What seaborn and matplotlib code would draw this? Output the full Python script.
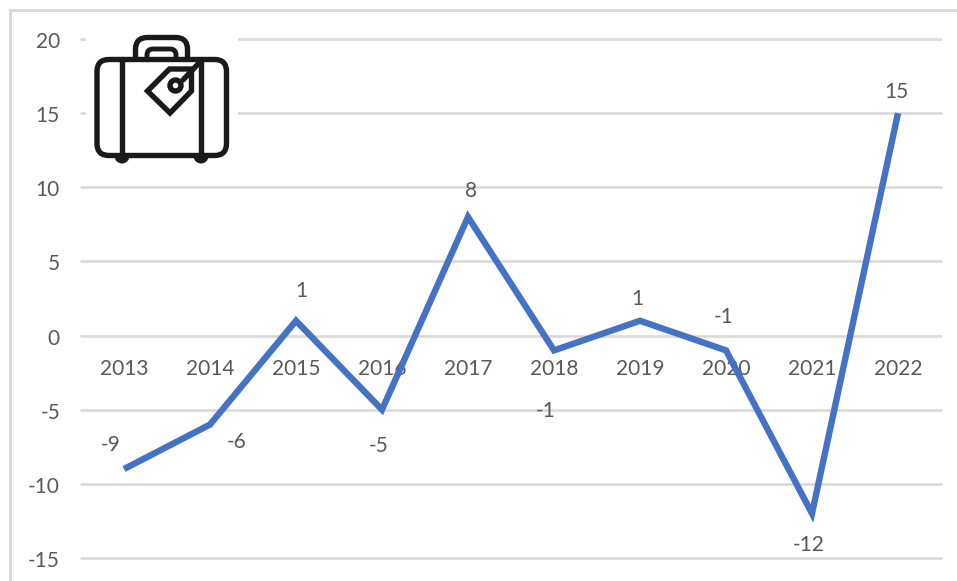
import matplotlib
matplotlib.use("Agg")
import matplotlib.pyplot as plt
from matplotlib.patches import FancyBboxPatch, Circle, Polygon, Rectangle
from matplotlib.lines import Line2D
from matplotlib.transforms import ScaledTranslation
import seaborn as sns
import pandas as pd

years = ["2013", "2014", "2015", "2016", "2017", "2018", "2019", "2020", "2021", "2022"]
values = [-9, -6, 1, -5, 8, -1, 1, -1, -12, 15]
label_offsets_px = [(-13, 24), (27, -17), (5, 30), (-3, -36), (3, 26),
                    (-8, -61), (-3, 22), (-2, 33), (-3, -31), (-2, 21)]
y_ticks = [20, 15, 10, 5, 0, -5, -10, -15]

W, H = 957, 581
GREY = "#595959"
GRID = "#d9d9d9"
BLUE = "#4472c4"
INK = "#1a1a1a"
PX = 72 / 100
FS = 15

sns.set_theme(style="white")
plt.rcParams["font.family"] = ["Lato", "DejaVu Sans"]

fig = plt.figure(figsize=(W / 100, H / 100), dpi=100, facecolor="white")
ax = fig.add_axes([81 / W, 1 - 558 / H, (941 - 81) / W, (558 - 39) / H], facecolor="none")

df = pd.DataFrame({"year": years, "value": values})
for v in y_ticks:
    ax.axhline(v, color=GRID, lw=2.6 * PX, zorder=1, clip_on=False)
sns.lineplot(data=df, x="year", y="value", color=BLUE, lw=6.4 * PX, ax=ax, zorder=5,
             solid_joinstyle="miter", solid_capstyle="butt", errorbar=None)

ax.set_xlim(-0.5, 9.5)
ax.set_ylim(-15, 20)
ax.set_xlabel("")
ax.set_ylabel("")
ax.set_yticks(y_ticks)
ax.set_yticklabels([str(v) for v in y_ticks])
ax.tick_params(axis="y", length=0, pad=21 * PX, labelsize=FS, labelcolor=GREY)
ax.tick_params(axis="x", length=0, pad=23 * PX, labelsize=FS, labelcolor=GREY)
for s in ax.spines.values():
    s.set_visible(False)
ax.spines["bottom"].set_position(("data", 0))
for lab in ax.get_xticklabels():
    lab.set_zorder(3)
shift_down = ScaledTranslation(0, -1 / 100, fig.dpi_scale_trans)
for lab in ax.get_yticklabels():
    lab.set_transform(lab.get_transform() + shift_down)

for i, (v, (dx, dy)) in enumerate(zip(values, label_offsets_px)):
    ax.annotate(str(v), (i, v), xytext=(dx * PX, dy * PX), textcoords="offset points",
                ha="center", va="center", fontsize=FS, color=GREY, zorder=6)

# Outer chart frame (runs off the right and bottom edges)
overlay = fig.add_axes([0, 0, 1, 1], facecolor="none")
overlay.set_xlim(0, W)
overlay.set_ylim(H, 0)
overlay.axis("off")
overlay.add_line(Line2D([9.5, W], [10, 10], color=GRID, lw=3 * PX))
overlay.add_line(Line2D([9.5, 9.5], [10, H], color=GRID, lw=3 * PX))

# Suitcase icon, with its white backing hiding the gridlines
overlay.add_patch(Rectangle((86, 28), 152, 145, fc="white", ec="none", zorder=2))
ilw = 5.4 * PX
overlay.add_patch(Circle((122, 156), 7.5, fc=INK, ec="none", zorder=3))
overlay.add_patch(Circle((201, 156), 7.5, fc=INK, ec="none", zorder=3))
overlay.add_patch(FancyBboxPatch((135.5, 37.5), 52, 40, boxstyle="round,pad=0,rounding_size=12",
                                 fc="white", ec=INK, lw=ilw, zorder=3))
overlay.add_patch(FancyBboxPatch((147, 49), 29, 24, boxstyle="round,pad=0,rounding_size=6",
                                 fc="white", ec=INK, lw=ilw * 0.9, zorder=3))
overlay.add_patch(FancyBboxPatch((97, 59.5), 129.5, 96, boxstyle="round,pad=0,rounding_size=12",
                                 fc="white", ec=INK, lw=ilw, zorder=4))
for x in (122, 201):
    overlay.add_line(Line2D([x, x], [59, 156], color=INK, lw=ilw, zorder=5))
overlay.add_patch(Polygon([(147.5, 91), (169.5, 69), (191.5, 69), (191.5, 91), (170, 113)],
                          closed=True, fc="white", ec=INK, lw=ilw, zorder=6, joinstyle="miter"))
overlay.add_line(Line2D([183, 199], [80, 63], color=INK, lw=ilw, zorder=7))
overlay.add_patch(Circle((175.5, 85.5), 5.5, fc="white", ec=INK, lw=ilw, zorder=8))

fig.savefig("out.png", dpi=100, facecolor="white")
